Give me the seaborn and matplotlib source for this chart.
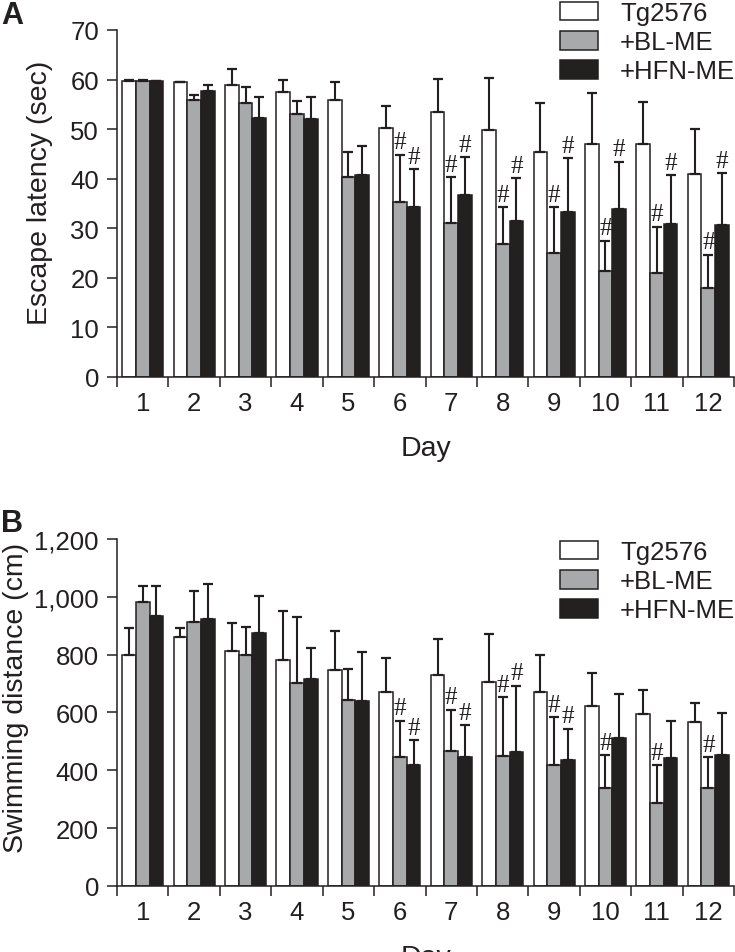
import matplotlib
matplotlib.use("Agg")
import matplotlib.pyplot as plt
import seaborn as sns
import pandas as pd
import numpy as np

# data
days = [str(d) for d in range(1, 13)]
groups = ["Tg2576", "+BL-ME", "+HFN-ME"]

# panel A: escape latency (sec), bar height and upper error (SD)
lat_tg = [59.7, 59.6, 58.9, 57.4, 55.8, 50.3, 53.4, 49.9, 45.4, 46.9, 46.9, 40.9]
lat_tg_sd = [0.2, 0.0, 3.3, 2.5, 3.7, 4.3, 6.8, 10.4, 9.9, 10.3, 8.6, 9.2]
lat_bl = [59.7, 55.8, 55.2, 53.0, 40.4, 35.2, 31.1, 26.8, 25.0, 21.3, 21.0, 18.0]
lat_bl_sd = [0.2, 1.0, 3.3, 2.7, 5.0, 9.6, 9.2, 7.4, 9.3, 6.2, 9.3, 6.7]
lat_hfn = [59.7, 57.7, 52.3, 52.1, 40.7, 34.2, 36.7, 31.5, 33.2, 33.8, 30.9, 30.6]
lat_hfn_sd = [0.0, 1.2, 4.1, 4.3, 5.9, 7.7, 7.6, 8.6, 10.9, 9.6, 9.8, 10.5]
lat_hash_bl = [0, 0, 0, 0, 0, 1, 1, 1, 1, 1, 1, 1]
lat_hash_hfn = [0, 0, 0, 0, 0, 1, 1, 1, 1, 1, 1, 1]

# panel B: swimming distance (cm)
dist_tg = [799, 861, 813, 782, 746, 670, 730, 705, 671, 622, 594, 568]
dist_tg_sd = [94, 32, 98, 169, 134, 120, 125, 168, 128, 115, 85, 63]
dist_bl = [982, 913, 799, 701, 642, 445, 468, 448, 418, 339, 286, 338]
dist_bl_sd = [54, 107, 98, 228, 110, 126, 142, 204, 165, 114, 131, 107]
dist_hfn = [932, 922, 874, 715, 639, 420, 445, 462, 435, 512, 442, 454]
dist_hfn_sd = [104, 123, 129, 109, 170, 84, 111, 231, 109, 151, 130, 144]
dist_hash_bl = [0, 0, 0, 0, 0, 1, 1, 1, 1, 1, 1, 1]
dist_hash_hfn = [0, 0, 0, 0, 0, 1, 1, 1, 1, 0, 0, 0]

colors = ["#ffffff", "#a7a9ac", "#231f20"]
edge = "#231f20"

sns.set_style("ticks")
plt.rcParams["font.family"] = ["Liberation Sans", "DejaVu Sans"]
plt.rcParams["text.color"] = edge
plt.rcParams["axes.labelcolor"] = edge
plt.rcParams["xtick.color"] = edge
plt.rcParams["ytick.color"] = edge

fig = plt.figure(figsize=(7.35, 9.53), dpi=100)
ax1 = fig.add_axes([0.1592, 0.6034, 0.8395, 0.3641])
ax2 = fig.add_axes([0.1592, 0.0693, 0.8395, 0.3641])


def panel(ax, vals, sds, hashes, ymax, ystep, ylabel, ylab_xy, legend_xy, fmt):
    df = pd.DataFrame({
        "Day": days * 3,
        "Group": np.repeat(groups, len(days)),
        "Value": np.concatenate(vals),
    })
    sns.barplot(data=df, x="Day", y="Value", hue="Group", order=days,
                hue_order=groups, palette=colors, edgecolor=edge,
                linewidth=1.1, errorbar=None, width=0.8, ax=ax, legend=False)
    bars = list(ax.containers)

    for i, cont in enumerate(bars):
        xs = [b.get_x() + b.get_width() / 2 for b in cont]
        hs = [b.get_height() for b in cont]
        ax.errorbar(xs, hs, yerr=[np.zeros(len(hs)), sds[i]], fmt="none",
                    ecolor=edge, elinewidth=1.5, capsize=3.8, capthick=1.6,
                    zorder=3)
        if hashes[i] is not None:
            for x, h, s, flag in zip(xs, hs, sds[i], hashes[i]):
                if flag:
                    ax.annotate("#", xy=(x, h + s), xytext=(0, 1),
                                textcoords="offset points", ha="center",
                                va="bottom", fontsize=18,
                                family="Liberation Serif", color=edge)

    ax.set_xlim(-0.5, 11.5)
    ax.set_ylim(0, ymax)
    ax.set_yticks(np.arange(0, ymax + 1, ystep))
    ax.yaxis.set_major_formatter(plt.FuncFormatter(lambda v, p: fmt.format(v)))
    ax.set_xticks(np.arange(-0.5, 12, 1), labels=[""] * 13)
    ax.set_xticks(np.arange(12), labels=days, minor=True)
    ax.tick_params(axis="x", which="major", length=7, width=1.1)
    ax.tick_params(axis="x", which="minor", length=0, pad=10, labelsize=18.5)
    ax.tick_params(axis="y", length=7, width=1.1, pad=6, labelsize=18.5)
    sns.despine(ax=ax)
    for s in ["left", "bottom"]:
        ax.spines[s].set_linewidth(1.1)
        ax.spines[s].set_color(edge)

    ax.set_ylabel(ylabel, fontsize=20.5)
    ax.yaxis.set_label_coords(*ylab_xy)
    ax.set_xlabel("Day", fontsize=20.5)
    ax.xaxis.set_label_coords(0.5, -0.168)

    ax.legend(handles=bars, labels=groups, loc="upper left",
              bbox_to_anchor=legend_xy, bbox_transform=fig.transFigure,
              frameon=False, fontsize=18.5, borderpad=0, borderaxespad=0,
              handlelength=1.48, handleheight=0.75, handletextpad=0.86,
              labelspacing=0.2)


panel(ax1, [lat_tg, lat_bl, lat_hfn], [lat_tg_sd, lat_bl_sd, lat_hfn_sd],
      [None, lat_hash_bl, lat_hash_hfn], 70, 10, "Escape latency (sec)",
      (-0.103, 0.532), (560 / 735, 1 - 2 / 953), "{:.0f}")
panel(ax2, [dist_tg, dist_bl, dist_hfn], [dist_tg_sd, dist_bl_sd, dist_hfn_sd],
      [None, dist_hash_bl, dist_hash_hfn], 1200, 200, "Swimming distance (cm)",
      (-0.143, 0.545), (560 / 735, 1 - 541 / 953), "{:,.0f}")

fig.text(0.002, 0.999, "A", fontsize=22, fontweight="bold", va="top", ha="left")
fig.text(0.002, 1 - 509 / 953, "B", fontsize=22, fontweight="bold", va="top", ha="left")

fig.savefig("out.png", dpi=100)
